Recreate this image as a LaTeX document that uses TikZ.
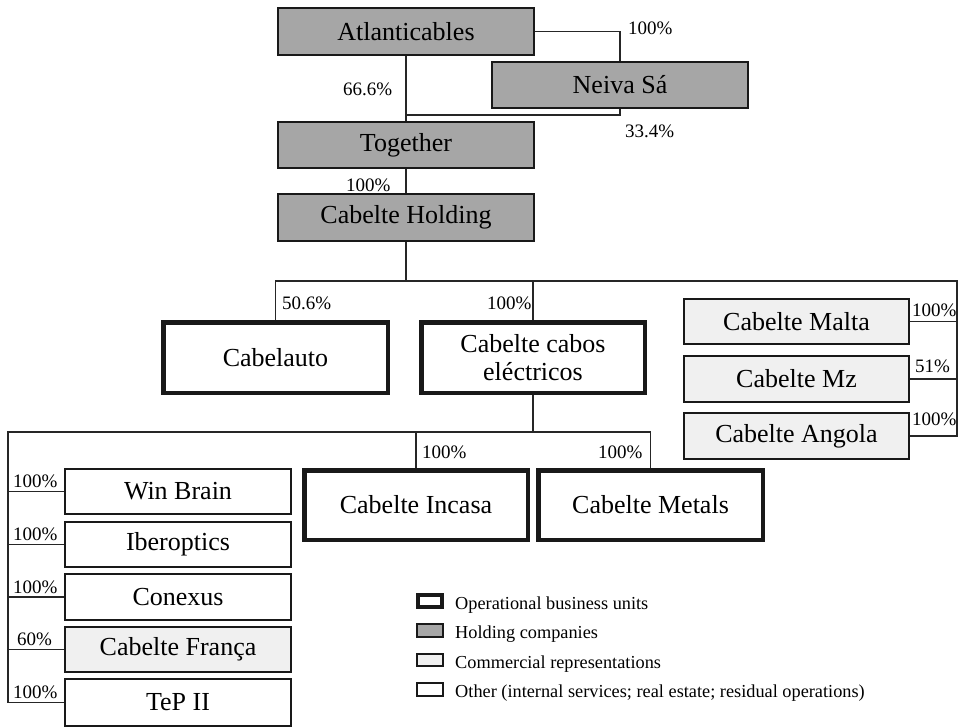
\documentclass[tikz,border=0pt]{standalone}
\usepackage{fontspec}
\setmainfont{Liberation Serif}
\definecolor{hgray}{HTML}{A6A6A6}
\definecolor{cgray}{HTML}{F0F0F0}
\begin{document}
\begin{tikzpicture}[x=1pt,y=-1pt,
  base/.style={draw=black!90, rectangle, inner sep=0pt, font=\fontsize{26}{28}\selectfont, align=center},
  holdbox/.style={base, fill=hgray, line width=2pt},
  opbox/.style={base, fill=white, line width=4.5pt},
  combox/.style={base, fill=cgray, line width=2pt},
  othbox/.style={base, fill=white, line width=2pt},
  conn/.style={line width=1.3pt, draw=black!85},
  pct/.style={font=\fontsize{19}{22}\selectfont, inner sep=0pt, anchor=base west},
  lgtext/.style={font=\fontsize{18.3}{22}\selectfont, inner sep=0pt, anchor=base west}]
\useasboundingbox[fill=white] (0,0) rectangle (959,726);
% holding companies
\node[holdbox, minimum width=256pt, minimum height=47pt] (atl) at (406,31.5) {Atlanticables};
\node[holdbox, minimum width=256pt, minimum height=46pt] (neiva) at (620,85) {Neiva Sá};
\node[holdbox, minimum width=256pt, minimum height=46pt] (tog) at (406,145) {Together};
\node[holdbox, minimum width=256pt, minimum height=47pt] (hold) at (406,217.5) {Cabelte Holding};
% operational
\node[opbox, minimum width=224.5pt, minimum height=70.5pt] (cabelauto) at (275.5,357.5) {Cabelauto};
\node[opbox, minimum width=223.5pt, minimum height=70.5pt] (cabos) at (533,357.5) {Cabelte cabos\\eléctricos};
\node[opbox, minimum width=223.5pt, minimum height=69.5pt] (incasa) at (416,505) {Cabelte Incasa};
\node[opbox, minimum width=224.5pt, minimum height=69.5pt] (metals) at (650.5,505) {Cabelte Metals};
% commercial
\node[combox, minimum width=225pt, minimum height=45pt] (malta) at (796.5,321.5) {Cabelte Malta};
\node[combox, minimum width=225pt, minimum height=46pt] (mz) at (796.5,379) {Cabelte Mz};
\node[combox, minimum width=225pt, minimum height=46pt] (angola) at (796.5,436) {Cabelte Angola};
% other
\node[othbox, minimum width=226pt, minimum height=45pt] (winbrain) at (178,491.5) {Win Brain};
\node[othbox, minimum width=226pt, minimum height=45pt] (iber) at (178,544.5) {Iberoptics};
\node[othbox, minimum width=226pt, minimum height=46pt] (conexus) at (178,597) {Conexus};
\node[combox, minimum width=226pt, minimum height=45pt] (franca) at (178,649.5) {Cabelte França};
\node[othbox, minimum width=226pt, minimum height=47pt] (tep) at (178,702.5) {TeP II};
% junctions
\coordinate (j1) at (406,115);
\coordinate (rc) at (957,281);
\coordinate (j3) at (8,432);
% connectors
\draw[conn] (atl.east) -| (neiva.north);
\draw[conn] (atl.south) -- (tog.north);
\draw[conn] (neiva.south) |- (j1);
\draw[conn] (tog.south) -- (hold.north);
\draw[conn] (hold.south) -- (hold.south |- rc);
\draw[conn] (cabelauto.north) |- (rc) |- (angola.east);
\draw[conn] (cabos.north) -- (cabos.north |- rc);
\draw[conn] (malta.east) -- (malta.east -| rc);
\draw[conn] (mz.east) -- (mz.east -| rc);
\draw[conn] (cabos.south) -- (cabos.south |- j3);
\draw[conn] (tep.west) -| (j3) -| (metals.north);
\draw[conn] (incasa.north) -- (incasa.north |- j3);
\foreach \n in {winbrain,iber,conexus,franca} \draw[conn] (\n.west) -- (\n.west -| j3);
% percentages
\node[pct] (p1) at (628,34) {100\%};
\node[pct] (p2) at (343,95) {66.6\%};
\node[pct] (p3) at (625,137) {33.4\%};
\node[pct] (p4) at (346,191) {100\%};
\node[pct] (p5) at (282,309) {50.6\%};
\node[pct] (p6) at (487,309) {100\%};
\node[pct] (p7) at (912,316) {100\%};
\node[pct] (p8) at (915,372) {51\%};
\node[pct] (p9) at (912,425) {100\%};
\node[pct] (p10) at (422,458) {100\%};
\node[pct] (p11) at (598,458) {100\%};
\node[pct] (p12) at (13,487) {100\%};
\node[pct] (p13) at (13,540) {100\%};
\node[pct] (p14) at (13,593) {100\%};
\node[pct] (p15) at (17,645) {60\%};
\node[pct] (p16) at (13,698) {100\%};
% legend
\node[opbox, line width=4pt, minimum width=24pt, minimum height=12pt] (lg1) at (430,601) {};
\node[holdbox, minimum width=26pt, minimum height=13pt] (lg2) at (430,630.5) {};
\node[combox, minimum width=26pt, minimum height=12pt] (lg3) at (430,660) {};
\node[othbox, minimum width=26pt, minimum height=13pt] (lg4) at (430,689.5) {};
\node[lgtext] (lt1) at (455,609) {Operational business units};
\node[lgtext] (lt2) at (455,638) {Holding companies};
\node[lgtext] (lt3) at (455,668) {Commercial representations};
\node[lgtext] (lt4) at (455,697) {Other (internal services; real estate; residual operations)};
\end{tikzpicture}
\end{document}
